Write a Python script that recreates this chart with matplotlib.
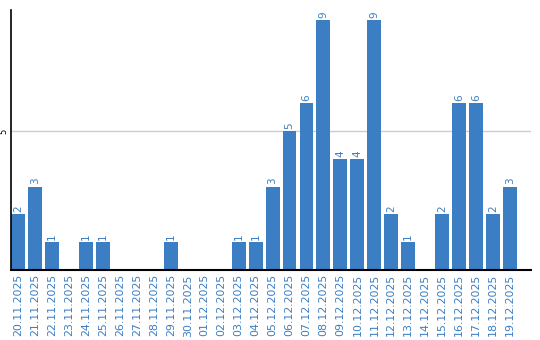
import matplotlib.pyplot as plt

dates = ['20.11.2025', '21.11.2025', '22.11.2025', '23.11.2025', '24.11.2025',
         '25.11.2025', '26.11.2025', '27.11.2025', '28.11.2025', '29.11.2025',
         '30.11.2025', '01.12.2025', '02.12.2025', '03.12.2025', '04.12.2025',
         '05.12.2025', '06.12.2025', '07.12.2025', '08.12.2025', '09.12.2025',
         '10.12.2025', '11.12.2025', '12.12.2025', '13.12.2025', '14.12.2025',
         '15.12.2025', '16.12.2025', '17.12.2025', '18.12.2025', '19.12.2025']
counts = [2, 3, 1, 0, 1, 1, 0, 0, 0, 1,
          0, 0, 0, 1, 1, 3, 5, 6, 9, 4,
          4, 9, 2, 1, 0, 2, 6, 6, 2, 3]

blue = '#3b7ec3'

fig = plt.figure(figsize=(5.4, 3.4), dpi=100)
ax = fig.add_axes([0.0204, 0.206, 0.963, 0.764])

x = list(range(len(dates)))
ax.bar(x, counts, width=0.82, color=blue, zorder=2)

for i, v in enumerate(counts):
    if v > 0:
        ax.text(i, v + 0.08, str(v), rotation=90, ha='center', va='bottom',
                color=blue, fontsize=7.5)

ax.set_xlim(-0.42, 30.24)
ax.set_ylim(0, 9.35)
ax.set_xticks(x)
ax.set_xticklabels(dates, rotation=90, color=blue, fontsize=7.9)
ax.set_yticks([5])
ax.set_yticklabels(['5'], rotation=90, fontsize=6, va='center')
ax.tick_params(axis='both', length=0, pad=3)
ax.tick_params(axis='y', pad=2)
ax.grid(axis='y', color='#cccccc', linewidth=1, zorder=0)

for s in ['top', 'right']:
    ax.spines[s].set_visible(False)
ax.spines['left'].set_linewidth(1.2)
ax.spines['bottom'].set_linewidth(1.5)

fig.savefig('out.png', dpi=100)
